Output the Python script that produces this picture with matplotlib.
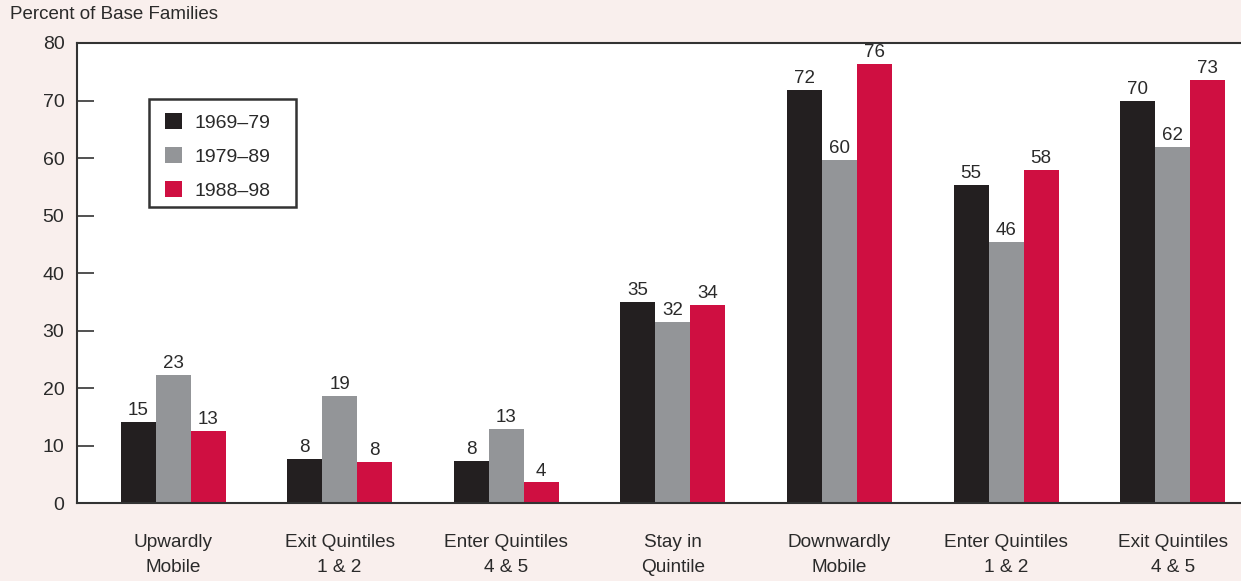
import numpy as np
import matplotlib.pyplot as plt
from matplotlib.patches import Patch, Rectangle

plt.rcParams['font.family'] = ['Liberation Sans', 'DejaVu Sans']

categories = ["Upwardly\nMobile", "Exit Quintiles\n1 & 2", "Enter Quintiles\n4 & 5",
              "Stay in\nQuintile", "Downwardly\nMobile", "Enter Quintiles\n1 & 2",
              "Exit Quintiles\n4 & 5"]
series_names = ["1969\u201379", "1979\u201389", "1988\u201398"]

# bar heights as drawn, and the printed labels
vals_6979 = [14.1, 7.7, 7.3, 35.0, 71.8, 55.3, 69.9]
vals_7989 = [22.3, 18.6, 12.9, 31.5, 59.7, 45.4, 61.9]
vals_8898 = [12.6, 7.2, 3.6, 34.4, 76.3, 57.9, 73.6]
lab_6979 = [15, 8, 8, 35, 72, 55, 70]
lab_7989 = [23, 19, 13, 32, 60, 46, 62]
lab_8898 = [13, 8, 4, 34, 76, 58, 73]

colors = ["#231f20", "#939598", "#cf0f41"]
bg = "#f9efed"
edge = "#333333"
txt = "#2a2a2a"

fig = plt.figure(figsize=(12.41, 5.81), dpi=100, facecolor=bg)
ax = fig.add_axes([0.062, 0.134, 0.938, 0.792])
ax.set_facecolor("white")

x = np.arange(len(categories))
w = 0.21
for k, (vals, labs) in enumerate([(vals_6979, lab_6979), (vals_7989, lab_7989), (vals_8898, lab_8898)]):
    pos = x + (k - 1) * w
    ax.bar(pos, vals, width=w, color=colors[k], zorder=2)
    for px, v, l in zip(pos, vals, labs):
        ax.text(px, v + 0.5, str(l), ha="center", va="bottom", fontsize=13.5, color=txt)

ax.set_xlim(-0.577, 6.41)
ax.set_ylim(0, 80)
ax.set_yticks(range(0, 81, 10))
ax.tick_params(axis="y", direction="in", length=12, width=1.2, color=edge,
               labelsize=14, labelcolor=txt, pad=9)
ax.set_xticks(x)
ax.set_xticklabels(categories, fontsize=13.7, color=txt, linespacing=1.65)
ax.tick_params(axis="x", length=0, pad=22)

for s in ["left", "top", "bottom"]:
    ax.spines[s].set_color(edge)
    ax.spines[s].set_linewidth(1.5)
ax.spines["right"].set_visible(False)

fig.text(0.008, 0.975, "Percent of Base Families", fontsize=13.5, color=txt,
         ha="left", va="center")

# legend: entries without frame, box drawn separately (wider right margin)
handles = [Patch(facecolor=c, edgecolor="none") for c in colors]
leg = ax.legend(handles, series_names, loc="upper left", bbox_to_anchor=(0.0655, 0.874),
                fontsize=14, frameon=False, handlelength=0.85,
                handleheight=0.85, handletextpad=0.65, labelspacing=0.8,
                borderpad=0.62, borderaxespad=0)
for t in leg.get_texts():
    t.set_color(txt)
ax.add_patch(Rectangle((0.0619, 0.643), 0.126, 0.235, transform=ax.transAxes,
                       facecolor="white", edgecolor=edge, linewidth=1.8, zorder=3))
leg.set_zorder(4)

fig.savefig("out.png", dpi=100, facecolor=bg)
